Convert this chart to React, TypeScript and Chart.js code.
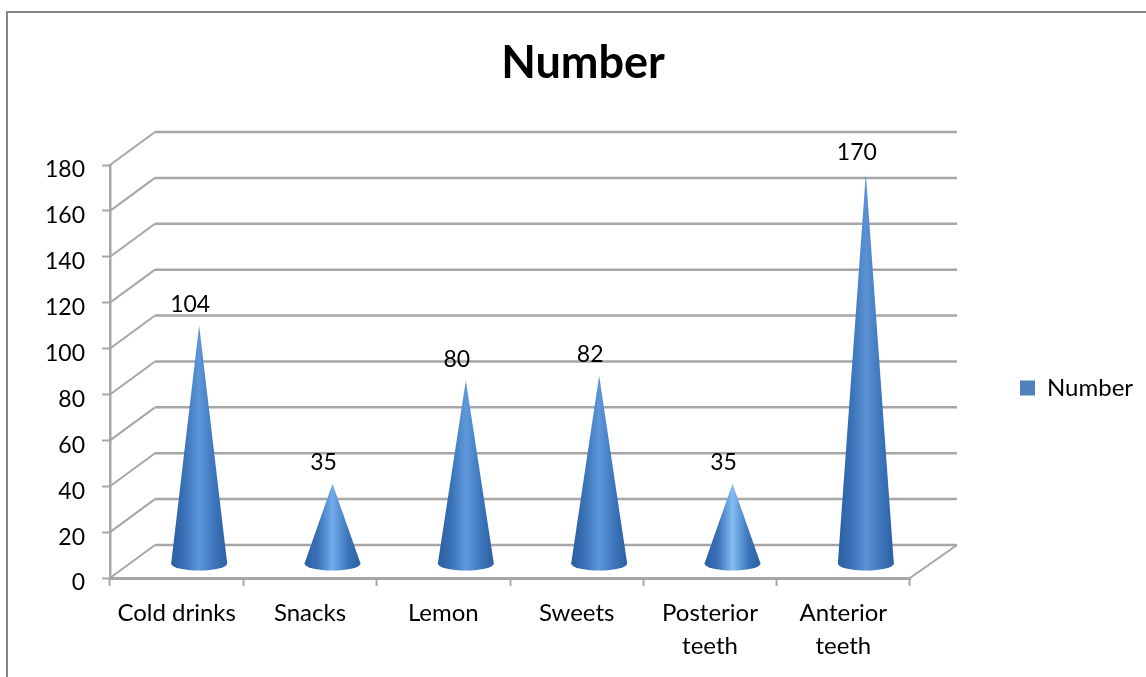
import { useEffect, useRef } from "react";
import { Chart, registerables } from "chart.js";

Chart.register(...registerables);

const categories = [
  "Cold drinks",
  "Snacks",
  "Lemon",
  "Sweets",
  ["Posterior", "teeth"],
  ["Anterior", "teeth"],
];
const seriesName = "Number";
const seriesValues = [104, 35, 80, 82, 35, 170];
const coneHighlights = ["#5c95d8", "#72abeb", "#5f98da", "#5c95d8", "#84bdf3", "#5a92d4"];

const FONT = "Lato, 'Noto Sans', sans-serif";
const GRID = "#a6a6a6";
const FRAME = "#868686";
const DEPTH_LEFT = 45;
const DEPTH_RIGHT = 47;
const DEPTH_Y = 33;

// Frame, walls and floor of the 3D box, drawn behind the cones.
const wallsPlugin = {
  id: "walls",
  beforeDatasetsDraw(chart: any) {
    const { ctx, scales } = chart;
    const y = scales.y;
    const x = scales.x;
    ctx.save();
    ctx.strokeStyle = GRID;
    ctx.lineCap = "butt";
    for (const tick of y.ticks) {
      const py = y.getPixelForValue(tick.value);
      ctx.lineWidth = 2;
      ctx.beginPath();
      ctx.moveTo(x.left, py);
      ctx.lineTo(x.left + DEPTH_LEFT, py - DEPTH_Y);
      ctx.stroke();
      ctx.lineWidth = 2.5;
      ctx.beginPath();
      ctx.moveTo(x.left + DEPTH_LEFT, py - DEPTH_Y);
      ctx.lineTo(x.right + DEPTH_RIGHT, py - DEPTH_Y);
      ctx.stroke();
    }
    const floor = y.getPixelForValue(0);
    ctx.lineWidth = 2;
    ctx.beginPath();
    ctx.moveTo(x.right, floor);
    ctx.lineTo(x.right + DEPTH_RIGHT, floor - DEPTH_Y);
    ctx.stroke();
    ctx.restore();
  },
  beforeDraw(chart: any) {
    const { ctx } = chart;
    ctx.save();
    ctx.fillStyle = "#ffffff";
    ctx.fillRect(0, 0, chart.width, chart.height);
    ctx.strokeStyle = FRAME;
    ctx.lineWidth = 2;
    ctx.beginPath();
    ctx.moveTo(7, chart.height);
    ctx.lineTo(7, 12);
    ctx.lineTo(chart.width, 12);
    ctx.stroke();
    ctx.restore();
  },
  // Title sits over the whole canvas rather than the plot; the legend is centred on the lower half.
  afterLayout(chart: any) {
    const title = chart.titleBlock;
    if (title) {
      title.left += 128;
      title.right += 128;
    }
    const legend = chart.legend;
    if (legend) {
      legend.left = 1020;
      legend.right = 1146;
      legend.top = 376;
      legend.bottom = 400;
    }
  },
};

// Replaces each flat bar with a shaded cone standing mid-way along the floor.
const conesPlugin = {
  id: "cones",
  beforeDatasetDraw(chart: any) {
    const { ctx } = chart;
    const meta = chart.getDatasetMeta(0);
    meta.data.forEach((bar: any, i: number) => {
      const cx = bar.x + 22.5;
      const apexY = bar.y - 14;
      const baseY = bar.base - 14;
      const halfW = 28;
      const g = ctx.createLinearGradient(cx - halfW, 0, cx + halfW, 0);
      g.addColorStop(0, "#2a5d9e");
      g.addColorStop(0.24, "#3a72b8");
      g.addColorStop(0.5, coneHighlights[i]);
      g.addColorStop(0.78, "#3b74ba");
      g.addColorStop(1, "#2c60a2");
      ctx.save();
      ctx.fillStyle = g;
      ctx.beginPath();
      ctx.moveTo(cx, apexY);
      ctx.lineTo(cx + halfW, baseY);
      ctx.ellipse(cx, baseY, halfW, 7, 0, 0, Math.PI);
      ctx.closePath();
      ctx.fill();
      ctx.fillStyle = "#000000";
      ctx.font = `23px ${FONT}`;
      ctx.textAlign = "center";
      ctx.textBaseline = "middle";
      ctx.fillText(String(seriesValues[i]), cx - 9, apexY - 21);
      ctx.restore();
    });
    return false;
  },
};

export default function App() {
  const ref = useRef<HTMLCanvasElement>(null);

  useEffect(() => {
    const chart = new Chart(ref.current!, {
      type: "bar",
      data: {
        labels: categories as any,
        datasets: [
          {
            label: seriesName,
            data: seriesValues,
            backgroundColor: "#4f81bd",
            borderWidth: 0,
          },
        ],
      },
      options: {
        animation: false,
        responsive: false,
        layout: { padding: { left: 0, top: 0, right: 236, bottom: 0 } },
        plugins: {
          title: {
            display: true,
            text: "Number",
            color: "#000000",
            font: { family: FONT, size: 45, weight: "bold", lineHeight: 1.2 },
            padding: { top: 36, bottom: 75 },
          },
          legend: {
            position: "chartArea",
            align: "start",
            labels: {
              boxWidth: 15,
              boxHeight: 15,
              padding: 0,
              color: "#000000",
              font: { family: FONT, size: 24 },
            },
          },
          tooltip: { enabled: false },
        },
        scales: {
          x: {
            afterFit: (s: any) => {
              s.height = 99;
            },
            border: { color: GRID, width: 3 },
            grid: {
              drawOnChartArea: false,
              tickColor: GRID,
              tickLength: 8,
              tickWidth: 2,
            },
            ticks: {
              color: "#000000",
              font: { family: FONT, size: 24, lineHeight: 1.375 },
              maxRotation: 0,
              padding: 11,
            },
          },
          y: {
            min: 0,
            max: 180,
            afterFit: (s: any) => {
              s.width = 110;
            },
            border: { color: GRID, width: 2.5 },
            grid: {
              drawOnChartArea: false,
              tickColor: GRID,
              tickLength: 8,
              tickWidth: 2,
            },
            ticks: {
              stepSize: 20,
              color: "#000000",
              font: { family: FONT, size: 23 },
              padding: 17,
              labelOffset: 5,
            },
          },
        },
      },
      plugins: [wallsPlugin, conesPlugin],
    } as any);
    return () => chart.destroy();
  }, []);

  return (
    <canvas
      ref={ref}
      width={1146}
      height={677}
      style={{ position: "fixed", left: 0, top: 0, display: "block" }}
    />
  );
}
